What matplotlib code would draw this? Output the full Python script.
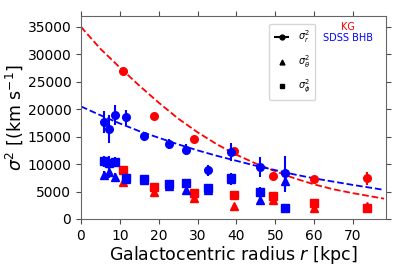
import matplotlib

matplotlib.use("Agg")
import matplotlib.pyplot as plt
from matplotlib.lines import Line2D

# KG sample (red)
kg_r = [10.8, 18.9, 29.0, 39.4, 49.5, 60.0, 73.6]
kg_sig_r = [27000, 18700, 14500, 12300, 7800, 7200, 7400]
kg_sig_r_err = [400, 400, 400, 500, 500, 700, 1200]
kg_sig_th = [6800, 5000, 3800, 2400, 3500, 2000, 2300]
kg_sig_th_err = [400, 400, 400, 400, 500, 500, 500]
kg_sig_ph = [8900, 5900, 4800, 4300, 4100, 2900, 2000]
kg_sig_ph_err = [400, 500, 500, 500, 600, 600, 500]

# SDSS BHB sample (blue)
bhb_r = [5.9, 7.2, 8.7, 11.6, 16.2, 22.6, 27.1, 32.6, 38.5, 46.0, 52.5]
bhb_sig_r = [17700, 16400, 19000, 18500, 15100, 13600, 12600, 8900, 12200, 9500, 8300]
bhb_sig_r_err = [2000, 2500, 1800, 1300, 600, 900, 1000, 1000, 1700, 1800, 3200]
bhb_sig_th = [8000, 8500, 7600, 7300, 7100, 6000, 5300, 5300, 7200, 3500, 6900]
bhb_sig_th_err = [800, 1000, 700, 600, 500, 600, 800, 800, 1000, 800, 2000]
bhb_sig_ph = [10500, 10200, 10300, 7500, 7300, 6300, 6600, 5600, 7500, 5000, 2000]
bhb_sig_ph_err = [1000, 1200, 900, 700, 500, 600, 700, 700, 900, 800, 500]

# dashed fit curves
fit_r = [0, 5, 10, 15, 20, 25, 30, 35, 40, 45, 50, 55, 60, 65, 70, 78]
fit_kg = [35000, 31000, 27600, 24300, 21200, 18300, 15800, 13600, 11700, 10100, 8700, 7400, 6300, 5400, 4700, 3700]
fit_bhb = [20500, 18900, 17400, 16000, 14800, 13600, 12500, 11500, 10600, 9700, 8900, 8100, 7400, 6800, 6200, 5300]

fig = plt.figure(figsize=(3.95, 2.69), dpi=100)
ax = fig.add_axes([0.205, 0.186, 0.772, 0.755])

ebar = dict(linestyle="none", elinewidth=1.5, capsize=0, markersize=5.5)
for color, r, sr, sre, st, ste, sp, spe in [
    ("red", kg_r, kg_sig_r, kg_sig_r_err, kg_sig_th, kg_sig_th_err, kg_sig_ph, kg_sig_ph_err),
    ("blue", bhb_r, bhb_sig_r, bhb_sig_r_err, bhb_sig_th, bhb_sig_th_err, bhb_sig_ph, bhb_sig_ph_err),
]:
    ax.errorbar(r, sr, yerr=sre, fmt="o", color=color, ecolor=color, **ebar)
    ax.errorbar(r, st, yerr=ste, fmt="^", color=color, ecolor=color, **ebar)
    ax.errorbar(r, sp, yerr=spe, fmt="s", color=color, ecolor=color, **ebar)

ax.plot(fit_r, fit_kg, color="red", linestyle="--", linewidth=1.3)
ax.plot(fit_r, fit_bhb, color="blue", linestyle="--", linewidth=1.3)

ax.set_xlim(0, 78.5)
ax.set_ylim(0, 37000)
ax.set_xticks([0, 10, 20, 30, 40, 50, 60, 70])
ax.set_yticks([0, 5000, 10000, 15000, 20000, 25000, 30000, 35000])
ax.tick_params(labelsize=10, top=True, right=True, color="0.3")
for spine in ax.spines.values():
    spine.set_color("0.4")

ax.set_xlabel(r"Galactocentric radius $r$ [kpc]", fontsize=12.5, labelpad=1)
ax.set_ylabel(r"$\sigma^2$ [(km s$^{-1}$]", fontsize=12.5, labelpad=2)

handles = [
    Line2D([], [], color="black", linestyle="--", marker="o", markersize=3.5),
    Line2D([], [], color="black", linestyle="none", marker="^", markersize=3.5),
    Line2D([], [], color="black", linestyle="none", marker="s", markersize=3.5),
]
labels = [r"$\sigma_r^2$", r"$\sigma_\theta^2$", r"$\sigma_\phi^2$"]
ax.legend(handles, labels, loc="upper right", bbox_to_anchor=(0.785, 0.985), fontsize=7,
          handlelength=1.6, handletextpad=0.9, borderpad=0.5, labelspacing=0.8)

ax.text(0.875, 0.945, "KG", color="red", fontsize=7, ha="center", va="center", transform=ax.transAxes)
ax.text(0.875, 0.89, "SDSS BHB", color="blue", fontsize=7, ha="center", va="center", transform=ax.transAxes)

fig.savefig("out.png", dpi=100)
